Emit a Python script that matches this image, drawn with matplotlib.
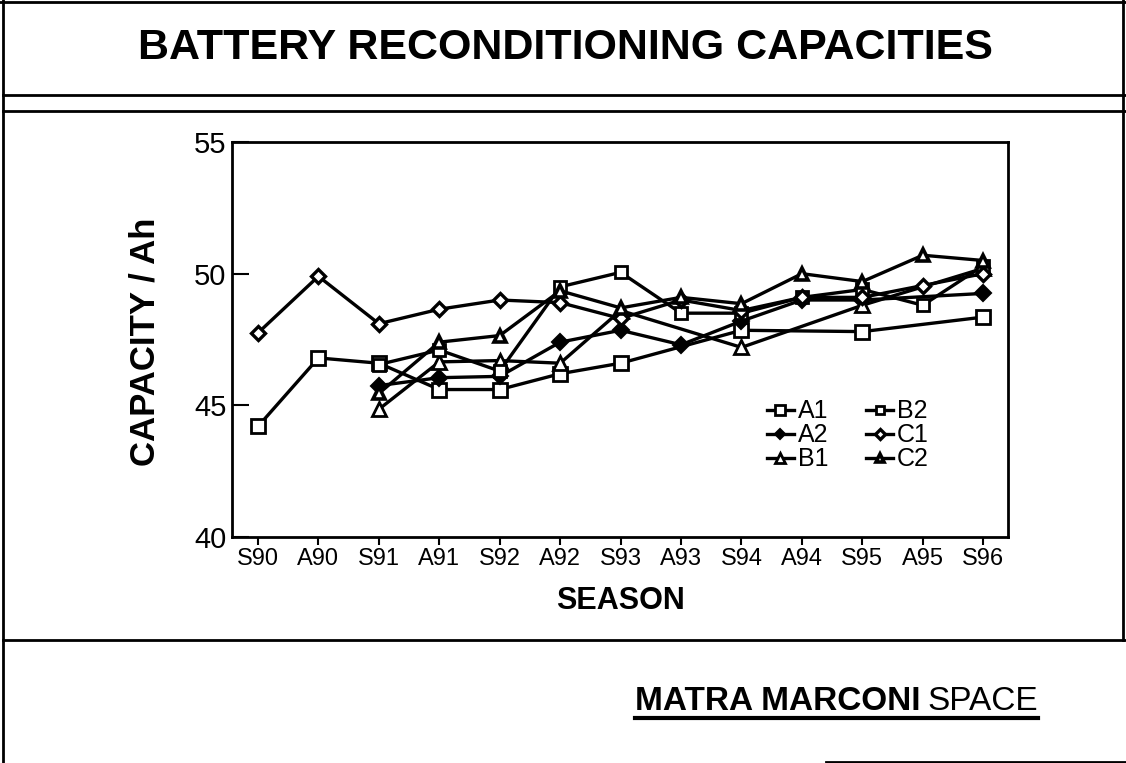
import numpy as np
import matplotlib
matplotlib.use("Agg")
import matplotlib.pyplot as plt
from matplotlib.lines import Line2D

plt.rcParams['font.family'] = ['Liberation Sans', 'DejaVu Sans']

# seasons (S = spring, A = autumn)
seasons = ['S90', 'A90', 'S91', 'A91', 'S92', 'A92', 'S93',
           'A93', 'S94', 'A94', 'S95', 'A95', 'S96']
nan = np.nan

# capacity in Ah, nan = no point plotted
a1 = [44.2, 46.8, 46.6, 45.6, 45.6, 46.2, 46.6, nan, 47.85, nan, 47.8, nan, 48.35]
a2 = [nan, nan, 45.75, 46.05, 46.1, 47.4, 47.85, 47.3, 48.2, 49.0, 49.0, nan, 49.25]
b1 = [nan, nan, 44.85, 46.65, 46.7, 46.6, 48.6, nan, 47.2, nan, 48.8, nan, 50.2]
b2 = [nan, nan, 46.55, 47.1, 46.3, 49.5, 50.05, 48.5, 48.5, 49.1, 49.4, 48.8, 50.3]
c1 = [47.75, 49.9, 48.1, 48.65, 49.0, 48.9, 48.3, 49.0, 48.6, 49.1, 49.1, 49.55, 50.0]
c2 = [nan, nan, 45.45, 47.4, 47.65, 49.35, 48.7, 49.1, 48.86, 50.0, 49.7, 50.7, 50.5]

W, H = 1126, 763
fig = plt.figure(figsize=(W / 100, H / 100), dpi=100)
fig.patch.set_facecolor('white')

def px(x, y):
    return x / W, 1 - y / H

l, t = px(232, 142)
r, b = px(1008, 537)
ax = fig.add_axes([l, b, r - l, t - b])

x = np.arange(len(seasons))
styles = [
    ('A1', a1, dict(marker='s', ms=10, mfc='white', mec='black', mew=2.0)),
    ('A2', a2, dict(marker='D', ms=8, mfc='black', mec='black', mew=1.5)),
    ('B1', b1, dict(marker='^', ms=10, mfc='white', mec='black', mew=2.0)),
    ('B2', b2, dict(marker='s', ms=9, mfc='white', mec='black', mew=2.0)),
    ('C1', c1, dict(marker='D', ms=7, mfc='white', mec='black', mew=2.4)),
    ('C2', c2, dict(marker='^', ms=9, mfc='white', mec='black', mew=2.6)),
]
for name, vals, kw in styles:
    v = np.array(vals, dtype=float)
    ok = ~np.isnan(v)
    ax.plot(x[ok], v[ok], color='black', lw=2.4, label=name, **kw)

ax.set_xlim(-0.43, 12.41)
ax.set_ylim(40, 55)
ax.set_yticks([40, 45, 50, 55])
ax.set_xticks(x)
ax.set_xticklabels(seasons)
ax.tick_params(axis='x', direction='out', length=6, width=1.5, labelsize=17, pad=2)
ax.tick_params(axis='y', direction='in', length=12, width=1.5, labelsize=21, pad=4)
for s in ax.spines.values():
    s.set_linewidth(2)

ax.legend(ncol=2, frameon=False, fontsize=18, loc='upper left',
          bbox_to_anchor=px(754, 387), bbox_transform=fig.transFigure,
          handlelength=1.1, handletextpad=0.15, columnspacing=1.5,
          labelspacing=0.0, borderpad=0, markerscale=0.7)

fig.text(*px(565, 48), 'BATTERY RECONDITIONING CAPACITIES', ha='center',
         va='center', fontsize=31, fontweight='bold')
fig.text(*px(145, 342), 'CAPACITY / Ah', ha='center', va='center',
         rotation=90, fontsize=25, fontweight='bold')
fig.text(*px(620, 601), 'SEASON', ha='center', va='center',
         fontsize=22, fontweight='bold')

# company name, bold part then normal part, underlined
t1 = fig.text(*px(635, 701), 'MATRA MARCONI', ha='left', va='center',
              fontsize=24, fontweight='bold')
fig.canvas.draw()
ext = t1.get_window_extent()
t2 = fig.text(ext.x1 / W + 7 / W, px(0, 701)[1], 'SPACE', ha='left',
              va='center', fontsize=24)
fig.canvas.draw()
ext2 = t2.get_window_extent()

def hline(y, x0, x1, lw=2.0):
    fig.add_artist(Line2D([x0 / W, x1 / W], [1 - y / H, 1 - y / H],
                          color='black', lw=lw, transform=fig.transFigure))

def vline(x, y0, y1, lw=2.0):
    fig.add_artist(Line2D([x / W, x / W], [1 - y0 / H, 1 - y1 / H],
                          color='black', lw=lw, transform=fig.transFigure))

hline(718, ext.x0, ext2.x1, lw=3)
hline(1.5, 0, W)
hline(95, 3, W)
hline(111, 3, W)
hline(640, 3, W)
hline(761.5, 826, W)
vline(3, 0, H)
vline(1123, 0, 640)

fig.savefig('out.png', dpi=100, facecolor='white')
